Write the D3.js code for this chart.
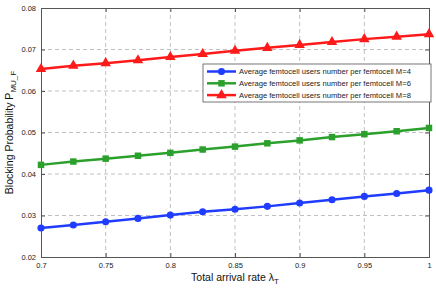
<!DOCTYPE html>
<html>
<head>
<meta charset="utf-8">
<script src="https://cdn.jsdelivr.net/npm/d3@7"></script>
<style>
  body { margin: 0; background: #fff; }
  svg { display: block; font-family: "Liberation Sans", Arial, sans-serif; }
</style>
</head>
<body>
<svg id="chart" width="436" height="289"></svg>
<script>
const lambdaT = [0.7, 0.725, 0.75, 0.775, 0.8, 0.825, 0.85, 0.875, 0.9, 0.925, 0.95, 0.975, 1.0]
const blockM4 = [0.0270, 0.0277, 0.0285, 0.0293, 0.0301, 0.0309, 0.0315, 0.0322, 0.0330, 0.0338, 0.0346, 0.0353, 0.0361]
const blockM6 = [0.0422, 0.0430, 0.0437, 0.0444, 0.0451, 0.0459, 0.0466, 0.0474, 0.0481, 0.0489, 0.0496, 0.0503, 0.0511]
const blockM8 = [0.0653, 0.0661, 0.0667, 0.0674, 0.0682, 0.0689, 0.0697, 0.0704, 0.0711, 0.0718, 0.0725, 0.0731, 0.0737]
const seriesNames = [
  'Average femtocell users number per femtocell M=4',
  'Average femtocell users number per femtocell M=6',
  'Average femtocell users number per femtocell M=8'
]
const xTicks = [0.7, 0.75, 0.8, 0.85, 0.9, 0.95, 1]
const yTicks = [0.02, 0.03, 0.04, 0.05, 0.06, 0.07, 0.08]

const svg = d3.select('#chart')
const margin = { top: 8, left: 41, right: 7, bottom: 32 }
const width = 436, height = 289
const innerWidth = width - margin.left - margin.right
const innerHeight = height - margin.top - margin.bottom

const xScale = d3.scaleLinear().domain([0.7, 1]).range([0, innerWidth])
const yScale = d3.scaleLinear().domain([0.02, 0.08]).range([innerHeight, 0])

const g = svg.append('g').attr('transform', `translate(${margin.left},${margin.top})`)

// grid
g.append('g').selectAll('line').data(xTicks.slice(1, -1)).join('line')
  .attr('x1', d => xScale(d)).attr('x2', d => xScale(d))
  .attr('y1', 0).attr('y2', innerHeight)
  .attr('stroke', '#b0b0b0').attr('stroke-dasharray', '4,3').attr('stroke-width', 0.8)
g.append('g').selectAll('line').data(yTicks.slice(1, -1)).join('line')
  .attr('y1', d => yScale(d)).attr('y2', d => yScale(d))
  .attr('x1', 0).attr('x2', innerWidth)
  .attr('stroke', '#b0b0b0').attr('stroke-dasharray', '4,3').attr('stroke-width', 0.8)

// axes
const xAxis = d3.axisBottom(xScale).tickValues(xTicks).tickSize(-4).tickPadding(6)
  .tickFormat(d => d3.format('')(+d.toFixed(2)))
const yAxis = d3.axisLeft(yScale).tickValues(yTicks).tickSize(-4).tickPadding(5)
  .tickFormat(d => d.toFixed(2))

g.append('g').attr('transform', `translate(0,${innerHeight})`).call(xAxis)
g.append('g').call(yAxis)
// mirrored ticks on top / right, no labels
g.append('g').call(d3.axisTop(xScale).tickValues(xTicks).tickSize(-4))
  .selectAll('text').remove()
g.append('g').attr('transform', `translate(${innerWidth},0)`)
  .call(d3.axisRight(yScale).tickValues(yTicks).tickSize(-4))
  .selectAll('text').remove()

g.selectAll('.domain').attr('stroke', '#555')
g.selectAll('.tick line').attr('stroke', '#555')
g.selectAll('.tick text').attr('font-size', 7.5).attr('fill', '#222')

// series
const colors = ['#1f3cff', '#2ca02c', '#ff1a1a']
const allSeries = [blockM4, blockM6, blockM8]
const line = d3.line().x((d, i) => xScale(lambdaT[i])).y(d => yScale(d))
const symbols = [d3.symbolCircle, d3.symbolSquare, d3.symbolTriangle]
const symSizes = [40, 42, 48]

allSeries.forEach((s, k) => {
  g.append('path').datum(s).attr('d', line)
    .attr('fill', 'none').attr('stroke', colors[k]).attr('stroke-width', 2.5)
  g.append('g').selectAll('path').data(s).join('path')
    .attr('transform', (d, i) => `translate(${xScale(lambdaT[i])},${yScale(d)})`)
    .attr('d', d3.symbol().type(symbols[k]).size(symSizes[k]))
    .attr('fill', colors[k])
})

// legend
const lg = svg.append('g').attr('transform', 'translate(203,64)')
lg.append('rect').attr('width', 228).attr('height', 38)
  .attr('fill', '#fff').attr('stroke', '#555').attr('stroke-width', 0.8)
seriesNames.forEach((name, k) => {
  const yy = 7.5 + k * 11.8
  lg.append('line').attr('x1', 4).attr('x2', 33).attr('y1', yy).attr('y2', yy)
    .attr('stroke', colors[k]).attr('stroke-width', 2.5)
  lg.append('path').attr('transform', `translate(18.5,${yy})`)
    .attr('d', d3.symbol().type(symbols[k]).size(symSizes[k]))
    .attr('fill', colors[k])
  lg.append('text').attr('x', 36).attr('y', yy + 2.7).attr('font-size', 7.6).attr('fill', '#222')
    .text(name)
})

// axis labels
const xl = svg.append('text').attr('x', margin.left + innerWidth / 2).attr('y', 281)
  .attr('text-anchor', 'middle').attr('font-size', 10.5).attr('fill', '#111')
xl.append('tspan').text('Total arrival rate λ')
xl.append('tspan').attr('font-size', 8).attr('dy', 3).text('T')

const yl = svg.append('text')
  .attr('transform', `translate(13,${margin.top + innerHeight / 2}) rotate(-90)`)
  .attr('text-anchor', 'middle').attr('font-size', 10.5).attr('fill', '#111')
yl.append('tspan').text('Blocking Probability P')
yl.append('tspan').attr('font-size', 8).attr('dy', 3).text('MU_F')
</script>
</body>
</html>
